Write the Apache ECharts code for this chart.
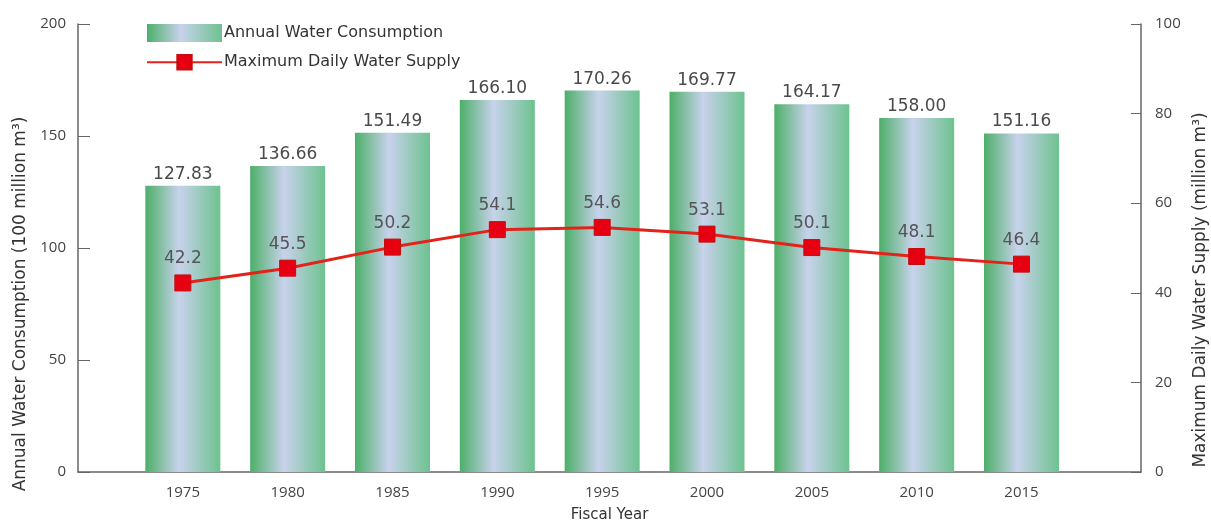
<!DOCTYPE html>
<html>
<head>
<meta charset="utf-8">
<script src="https://cdn.jsdelivr.net/npm/echarts@6/dist/echarts.min.js"></script>
<style>html,body{margin:0;padding:0;background:#fff}#c{width:1211px;height:522px}</style>
</head>
<body>
<div id="c"></div>
<script>
const years = [1975, 1980, 1985, 1990, 1995, 2000, 2005, 2010, 2015];
const annualConsumption = [127.83, 136.66, 151.49, 166.10, 170.26, 169.77, 164.17, 158.00, 151.16];
const maxDailySupply = [42.2, 45.5, 50.2, 54.1, 54.6, 53.1, 50.1, 48.1, 46.4];
const leftTicks = [0, 50, 100, 150, 200];
const rightTicks = [0, 20, 40, 60, 80, 100];

const FONT = 'Open Sans';
const WIDE = 'DejaVu Sans';
const chart = echarts.init(document.getElementById('c'));
const barGrad = new echarts.graphic.LinearGradient(0, 0, 1, 0, [
  {offset: 0, color: '#4caf68'},
  {offset: 0.45, color: '#c8d2ec'},
  {offset: 1, color: '#6dc28f'}
]);
chart.setOption({
  animation: false,
  backgroundColor: '#fff',
  textStyle: {fontFamily: FONT},
  legend: {
    orient: 'vertical', left: 141, top: 19, itemGap: 12,
    itemWidth: 75, itemHeight: 18,
    textStyle: {fontSize: 16, color: '#333', fontFamily: WIDE, padding: [0,0,0,-3]},
    data: [
      {name: 'Annual Water Consumption', icon: 'rect'},
      {name: 'Maximum Daily Water Supply'}
    ]
  },
  grid: {left: 78, right: 70, top: 24, bottom: 50, containLabel: false, outerBoundsMode: 'none'},
  xAxis: {
    type: 'value', min: 1970, max: 2020.7, interval: 5,
    name: 'Fiscal Year', nameLocation: 'middle', nameGap: 36,
    nameTextStyle: {fontSize: 15, color: '#333', fontFamily: WIDE},
    axisLine: {show: true, lineStyle: {color: '#666', width: 1.5}},
    axisTick: {show: false},
    splitLine: {show: false},
    axisLabel: {
      fontSize: 15, color: '#444', margin: 13, fontFamily: FONT,
      formatter: v => years.indexOf(v) >= 0 ? String(v) : ''
    }
  },
  yAxis: [
    {
      type: 'value', min: leftTicks[0], max: leftTicks[leftTicks.length-1], interval: 50,
      position: 'left',
      name: 'Annual Water Consumption (100 million m³)', nameLocation: 'middle', nameRotate: 90, nameGap: 49,
      nameTextStyle: {fontSize: 17, color: '#333', fontFamily: WIDE, padding: [0, 112, 0, 0]},
      axisLine: {show: true, lineStyle: {color: '#666', width: 1.5}},
      axisTick: {show: true, inside: true, length: 12, lineStyle: {color: '#666'}},
      splitLine: {show: false},
      axisLabel: {fontSize: 15, color: '#444', margin: 12, fontFamily: FONT}
    },
    {
      type: 'value', min: rightTicks[0], max: rightTicks[rightTicks.length-1], interval: 20,
      position: 'right',
      name: 'Maximum Daily Water Supply (million m³)', nameLocation: 'middle', nameRotate: 90, nameGap: 47,
      nameTextStyle: {fontSize: 17, color: '#333', fontFamily: WIDE, padding: [0, 84, 0, 0]},
      axisLine: {show: true, lineStyle: {color: '#666', width: 1.5}},
      axisTick: {show: true, inside: true, length: 10, lineStyle: {color: '#666'}},
      splitLine: {show: false},
      axisLabel: {fontSize: 15, color: '#444', margin: 14, fontFamily: FONT}
    }
  ],
  series: [
    {
      name: 'Annual Water Consumption', type: 'bar', yAxisIndex: 0,
      barWidth: 75,
      itemStyle: {color: barGrad},
      label: {show: true, position: 'top', distance: 3, fontSize: 17, color: '#4a4a4a', fontFamily: WIDE,
        formatter: p => p.value[1].toFixed(2)},
      data: years.map((y, i) => [y, annualConsumption[i]])
    },
    {
      name: 'Maximum Daily Water Supply', type: 'line', yAxisIndex: 1,
      symbol: 'rect', symbolSize: 16,
      lineStyle: {color: '#e3221b', width: 3},
      itemStyle: {color: '#e60012', borderColor: '#c0100e', borderWidth: 1},
      label: {show: true, position: 'top', distance: 7, fontSize: 17, color: '#555', fontFamily: WIDE,
        formatter: p => p.value[1].toFixed(1)},
      data: years.map((y, i) => [y, maxDailySupply[i]]),
      z: 5
    }
  ]
});
</script>
</body>
</html>
